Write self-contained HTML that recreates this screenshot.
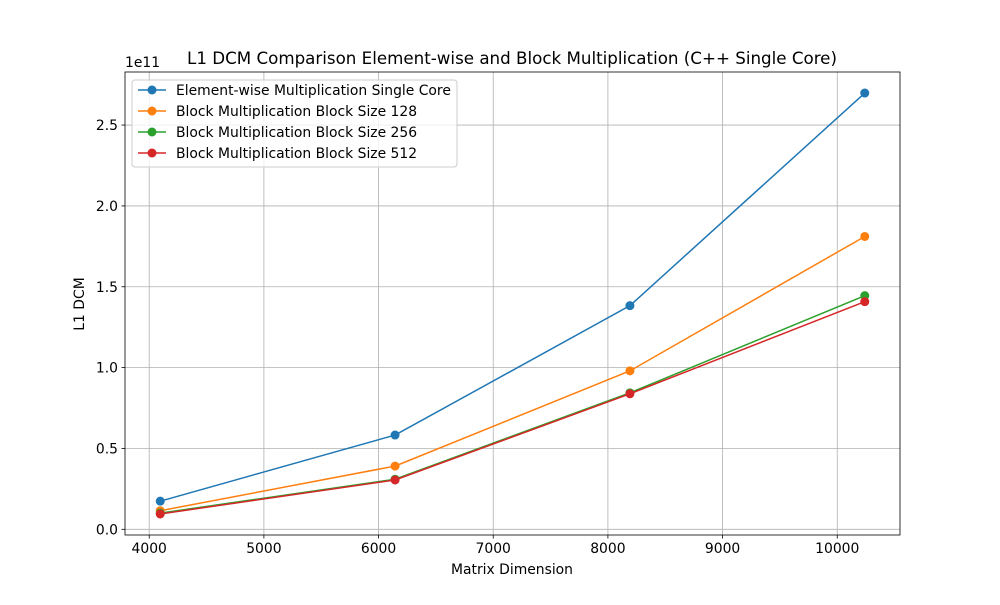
<!DOCTYPE html>
<html><head><meta charset="utf-8"><style>
body{margin:0;background:#fff;font-family:"Liberation Sans","DejaVu Sans",sans-serif;}
svg text{font-family:"DejaVu Sans","Liberation Sans",sans-serif;}
</style></head><body>
<svg id="chart" width="1000" height="600" xmlns="http://www.w3.org/2000/svg"></svg>
<script>
const categories = [4096, 6144, 8192, 10240];
const elementWise = [0.174, 0.583, 1.383, 2.698];
const block128 = [0.115, 0.391, 0.98, 1.811];
const block256 = [0.10, 0.31, 0.844, 1.445];
const block512 = [0.095, 0.305, 0.838, 1.408];
const seriesNames = ["Element-wise Multiplication Single Core","Block Multiplication Block Size 128","Block Multiplication Block Size 256","Block Multiplication Block Size 512"];
const xTicks = [4000,5000,6000,7000,8000,9000,10000];
const yTicks = [0,0.5,1.0,1.5,2.0,2.5];
const yTickLabels = ["0.0","0.5","1.0","1.5","2.0","2.5"];

const NS="http://www.w3.org/2000/svg";
const svg=document.getElementById('chart');
const L=125,R=900,T=72,B=535;
const allX=categories, allY=[].concat(elementWise,block128,block256,block512);
const xmin0=Math.min(...allX),xmax0=Math.max(...allX),ymin0=Math.min(...allY),ymax0=Math.max(...allY);
const xmin=xmin0-(xmax0-xmin0)*0.05,xmax=xmax0+(xmax0-xmin0)*0.05;
const ymin=ymin0-(ymax0-ymin0)*0.05,ymax=ymax0+(ymax0-ymin0)*0.05;
const sx=v=>L+(v-xmin)/(xmax-xmin)*(R-L);
const sy=v=>B-(v-ymin)/(ymax-ymin)*(B-T);
function mk(tag,attrs,parent){const e=document.createElementNS(NS,tag);for(const k in attrs)e.setAttribute(k,attrs[k]);(parent||svg).appendChild(e);return e;}

const grid=mk('g',{});


xTicks.forEach(t=>{const x=sx(t);
 mk('line',{x1:x,x2:x,y1:T,y2:B,stroke:'#b0b0b0','stroke-width':0.8},grid);
 mk('line',{x1:x,x2:x,y1:B,y2:B+3.5,stroke:'#000','stroke-width':0.8},grid);
 const tx=mk('text',{x:x,y:B+18,'text-anchor':'middle','font-size':13.9,fill:'#000'});
 
 
 tx.textContent=t;});
yTicks.forEach((t,i)=>{const y=sy(t);
 mk('line',{x1:L,x2:R,y1:y,y2:y,stroke:'#b0b0b0','stroke-width':0.8},grid);
 mk('line',{x1:L-3.5,x2:L,y1:y,y2:y,stroke:'#000','stroke-width':0.8},grid);
 const tx=mk('text',{x:L-7,y:y+5,'text-anchor':'end','font-size':13.9,fill:'#000'});
 
 
 tx.textContent=yTickLabels[i];});
const frame=mk('rect',{x:L,y:T,width:R-L,height:B-T,fill:'none',stroke:'#000','stroke-width':0.8});



const colors=['#1f77b4','#ff7f0e','#2ca02c','#d62728'];
[elementWise,block128,block256,block512].forEach((s,i)=>{
 const g=mk('g',{});
 
 
 mk('polyline',{points:s.map((v,j)=>sx(categories[j])+','+sy(v)).join(' '),fill:'none',stroke:colors[i],'stroke-width':1.5},g);
 s.forEach((v,j)=>{const c=mk('circle',{cx:sx(categories[j]),cy:sy(v),r:4.5,fill:colors[i]},g);
  
  });
});

const lg=mk('g',{});


mk('rect',{x:132,y:80,width:325,height:87,rx:3,fill:'#fff','fill-opacity':0.8,stroke:'#ccc'},lg);
seriesNames.forEach((n,i)=>{const y=90+i*21;
 const e=mk('g',{},lg);
 
 
 mk('line',{x1:138,x2:166,y1:y,y2:y,stroke:colors[i],'stroke-width':1.5},e);
 mk('circle',{cx:152,cy:y,r:4.5,fill:colors[i]},e);
 const t=mk('text',{x:176,y:y+5,'font-size':13.9,fill:'#000'},e);t.textContent=n;});

function label(txt,attrs,name){const t=mk('text',attrs);t.textContent=txt;}
label('L1 DCM Comparison Element-wise and Block Multiplication (C++ Single Core)',{x:512,y:64,'text-anchor':'middle','font-size':16.7},'chart-title');
label('Matrix Dimension',{x:512,y:574,'text-anchor':'middle','font-size':13.9},'x-axis-title');
label('L1 DCM',{x:0,y:0,'text-anchor':'middle','font-size':13.9,transform:'translate(84,304) rotate(-90)'},'y-axis-title');
label('1e11',{x:125,y:67,'font-size':13.9},'y-offset-label');
</script>
</body></html>
